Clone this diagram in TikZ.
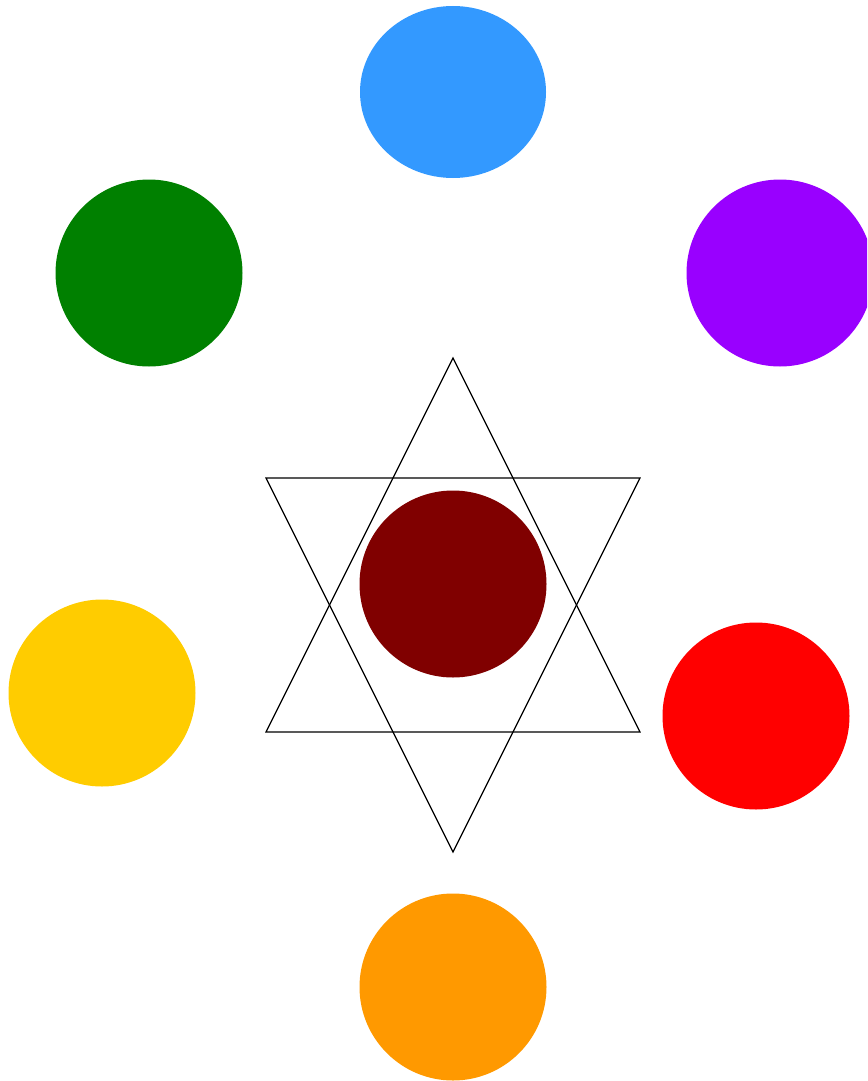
\documentclass[tikz,border=0pt]{standalone}
\definecolor{cblue}{HTML}{3399FF}
\definecolor{cgreen}{HTML}{008000}
\definecolor{cpurple}{HTML}{9900FF}
\definecolor{cmaroon}{HTML}{800000}
\definecolor{cyellow}{HTML}{FFCC00}
\definecolor{cred}{HTML}{FF0000}
\definecolor{corange}{HTML}{FF9900}
\begin{document}
\begin{tikzpicture}[x=0.75pt,y=-0.75pt,
  disc/.style={circle,inner sep=0pt,minimum size=187*0.75pt,draw=none},
  starline/.style={draw=black,line width=0.9pt,line join=miter}]
\useasboundingbox (0,0) rectangle (867,1081);
\clip (0,0) rectangle (867,1081);
\fill[cblue] (453,92) ellipse [x radius=93, y radius=86];
\node[disc,fill=cgreen] (green) at (149,273) {};
\node[disc,fill=cpurple] (purple) at (780,273) {};
\node[disc,fill=cmaroon] (maroon) at (453,584) {};
\node[disc,fill=cyellow] (yellow) at (102,693) {};
\node[disc,fill=cred] (red) at (756,716) {};
\node[disc,fill=corange] (orange) at (453,987) {};
\draw[starline] (453,358) -- (640,732) -- (266,732) -- cycle;
\draw[starline] (266,478) -- (640,478) -- (453,852) -- cycle;
\end{tikzpicture}
\end{document}
